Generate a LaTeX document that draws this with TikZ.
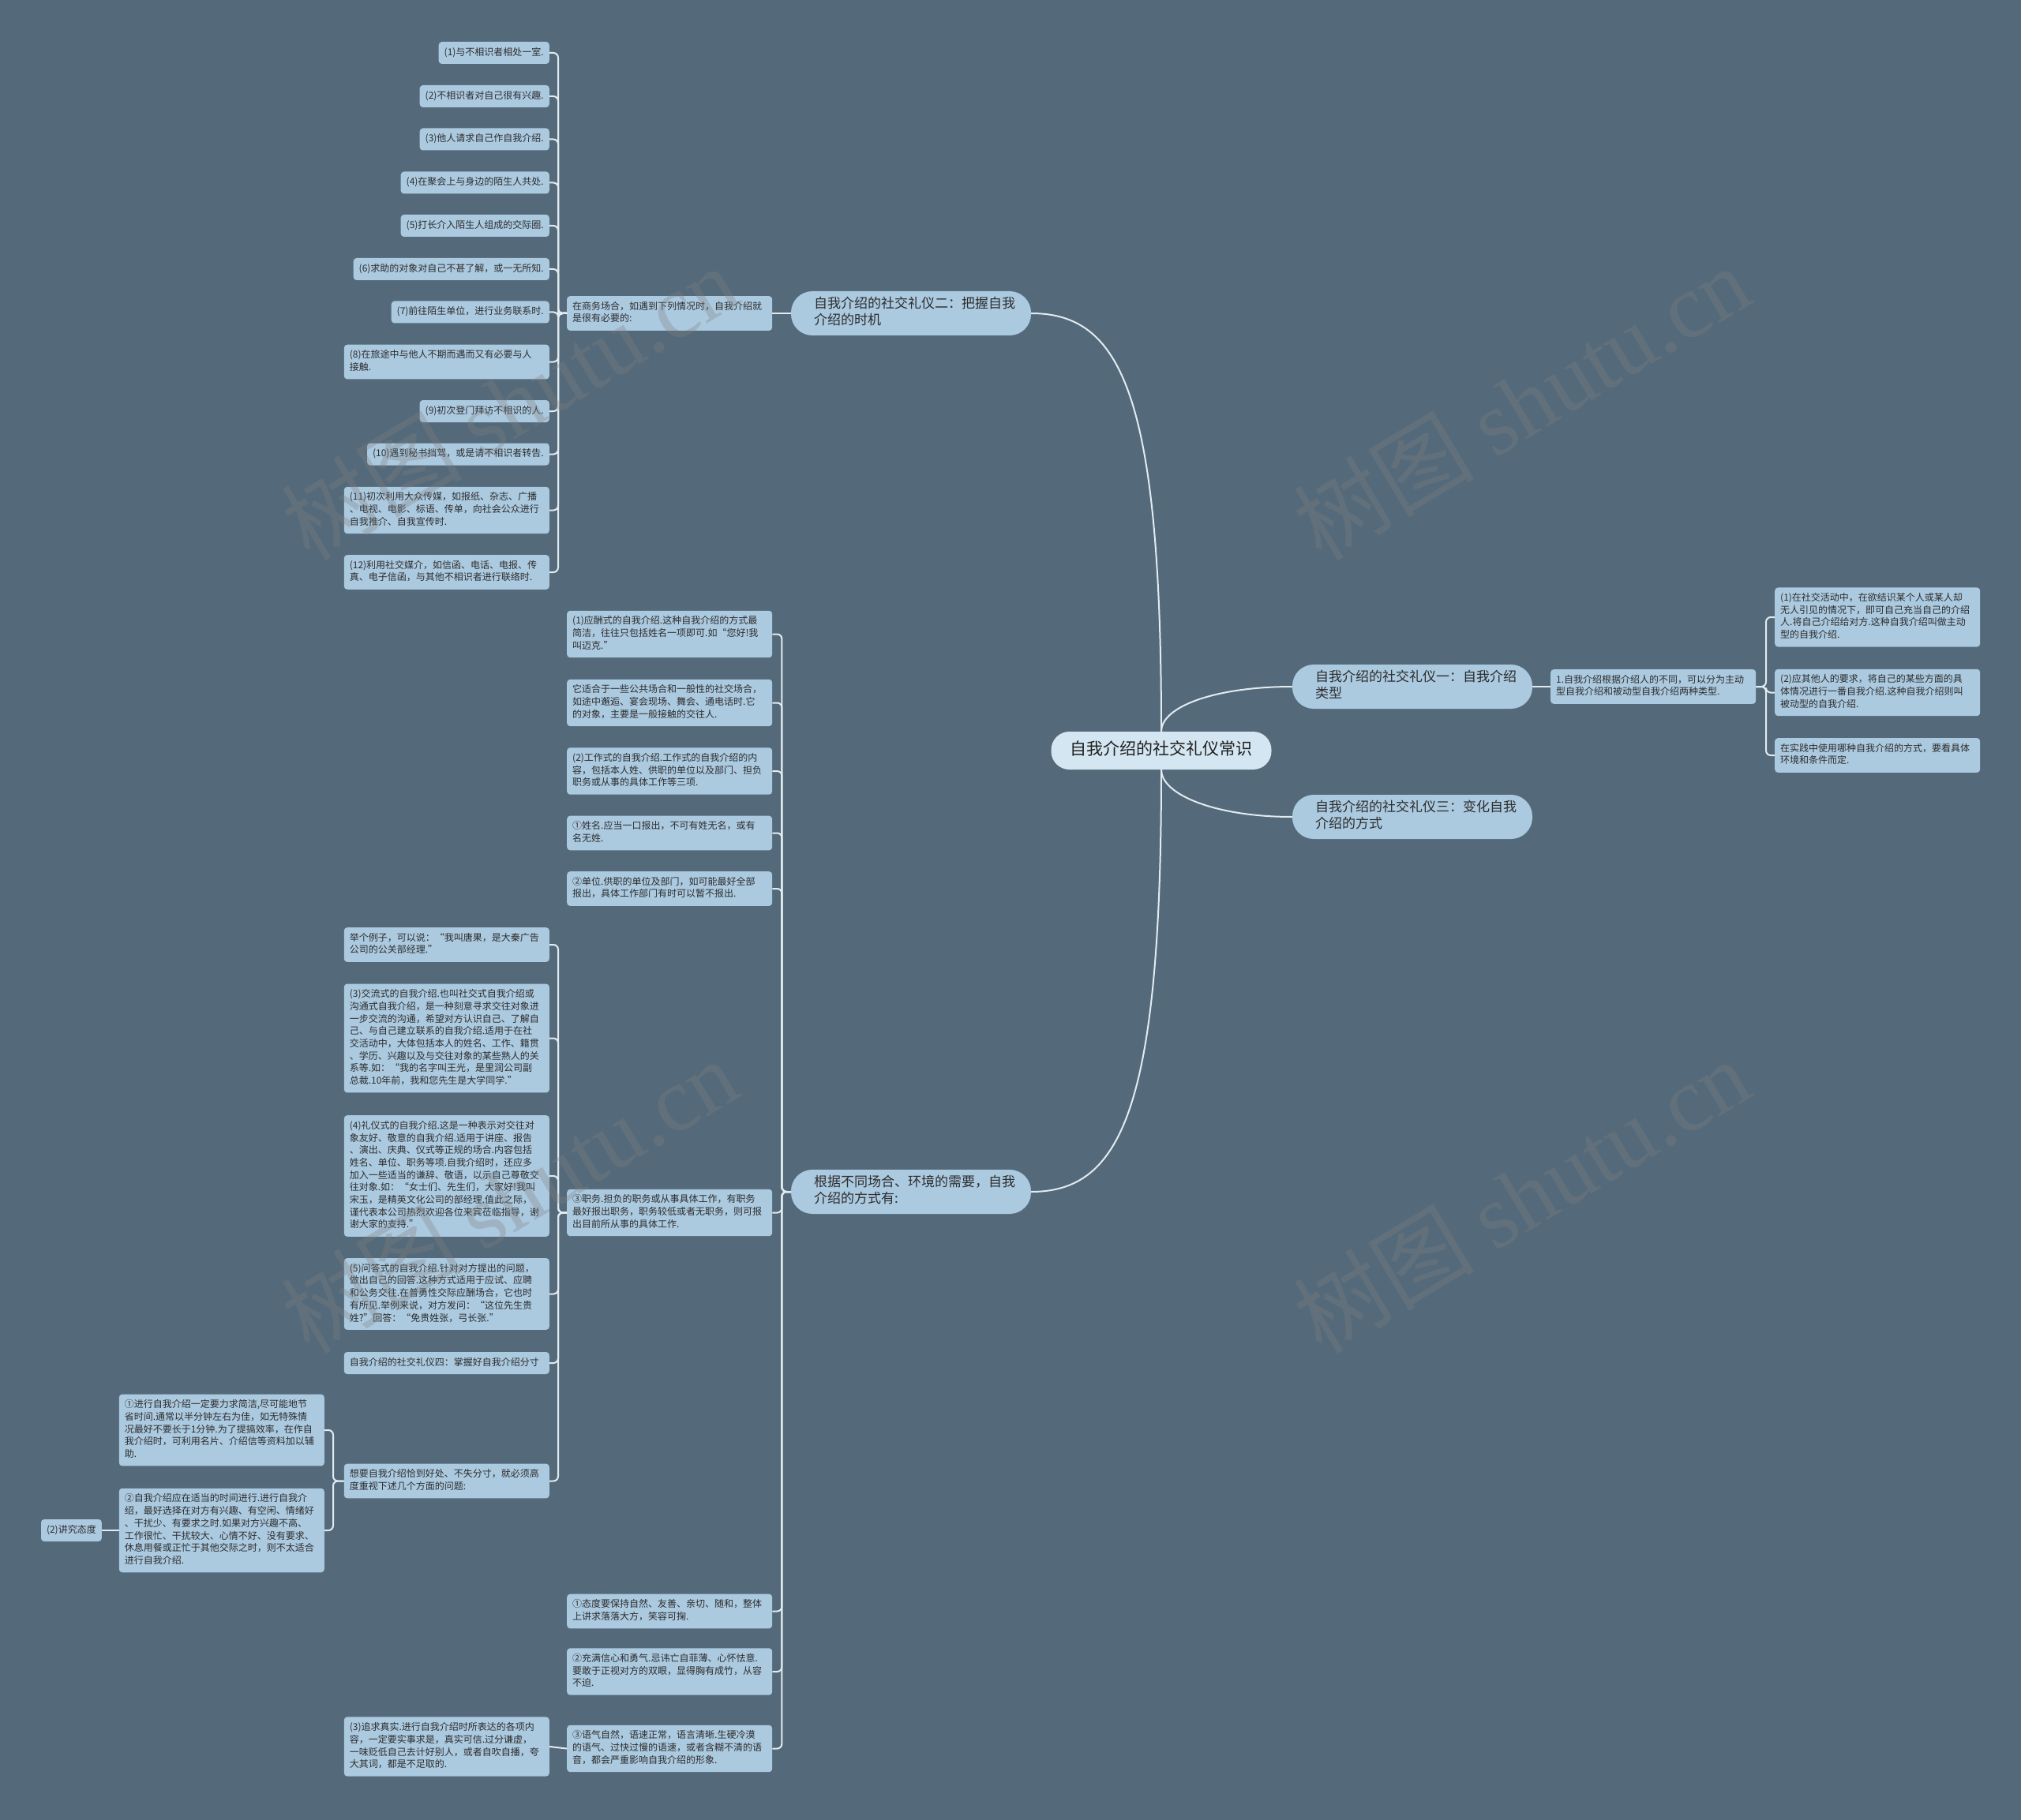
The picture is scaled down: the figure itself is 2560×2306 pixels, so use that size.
\documentclass[tikz,border=0pt]{standalone}
\usepackage{fontspec}
\newfontfamily\cjk{Noto Sans CJK SC}
\newfontfamily\wmlatin{Liberation Serif}
\definecolor{mapbg}{RGB}{84,106,122}
\definecolor{mapleaf}{RGB}{171,201,223}
\definecolor{maproot}{RGB}{212,230,241}
\definecolor{mapline}{RGB}{226,235,240}
\definecolor{maptext}{RGB}{45,45,45}
\tikzset{
  leaf/.style={fill=mapleaf, rounded corners=4pt, inner xsep=7pt, inner ysep=6.15pt,
    align=left, text=maptext, font=\cjk\fontsize{12}{15.7}\selectfont,
    execute at begin node=\strut, execute at end node=\strut},
  para/.style={leaf, text width=246pt},
  branch/.style={fill=mapleaf, rounded corners=27pt, inner xsep=29pt, inner ysep=7pt,
    text width=246pt, align=left, text=maptext, font=\cjk\fontsize{17}{21}\selectfont,
    execute at begin node=\strut, execute at end node=\strut},
  rootnode/.style={fill=maproot, rounded corners=23pt, inner xsep=24pt, inner ysep=11pt,
    text=black!88, font=\cjk\fontsize{21}{26}\selectfont,
    execute at begin node=\strut, execute at end node=\strut},
  conn/.style={draw=mapline, line width=2pt, rounded corners=6pt},
  wmark/.style={text=gray, opacity=0.3, rotate=31, font=\cjk\fontsize{115}{120}\selectfont}
}
\begin{document}
\begin{tikzpicture}[x=1pt, y=-1pt]
  \useasboundingbox (0,0) rectangle (2560,2306);
  \fill[mapbg] (0,0) rectangle (2560,2306);

  % centre and the four main branches
  \node[rootnode] (root) at (1471,951) {自我介绍的社交礼仪常识};
  \node[branch] (tips2) at (1154,397) {自我介绍的社交礼仪二：把握自我\\介绍的时机};
  \node[branch] (tips1) at (1789,870) {自我介绍的社交礼仪一：自我介绍\\类型};
  \node[branch] (tips3) at (1789,1035) {自我介绍的社交礼仪三：变化自我\\介绍的方式};
  \node[branch] (tips4) at (1154,1510) {根据不同场合、环境的需要，自我\\介绍的方式有:};
  \draw[conn] (root.north) .. controls (1471,500) and (1420,397) .. (tips2.east);
  \draw[conn] (root.south) .. controls (1471,1405) and (1420,1510) .. (tips4.east);
  \draw[conn] (root.north) .. controls (1471,895) and (1540,870) .. (tips1.west);
  \draw[conn] (root.south) .. controls (1471,1007) and (1540,1035) .. (tips3.west);

  % branch one: types
  \node[para, anchor=west] (type) at (1964,870) {1.自我介绍根据介绍人的不同，可以分为主动\\型自我介绍和被动型自我介绍两种类型.};
  \draw[conn] (tips1.east) -- (type.west);
  \foreach \y/\txt [count=\i] in {
    782/{(1)在社交活动中，在欲结识某个人或某人却\\无人引见的情况下，即可自己充当自己的介绍\\人.将自己介绍给对方.这种自我介绍叫做主动\\型的自我介绍.},
    877.5/{(2)应其他人的要求，将自己的某些方面的具\\体情况进行一番自我介绍.这种自我介绍则叫\\被动型的自我介绍.},
    957/{在实践中使用哪种自我介绍的方式，要看具体\\环境和条件而定.}}{
    \node[para, anchor=west] (kind\i) at (2248,\y) {\txt};
    \draw[conn] (kind\i.west) -- ++(-11,0) |- (type.east);
  }

  % branch two: occasions
  \node[para, anchor=west] (biz) at (718,397) {在商务场合，如遇到下列情况时，自我介绍就\\是很有必要的:};
  \draw[conn] (biz.east) -- (tips2.west);
  \foreach \y/\s/\txt [count=\i] in {
    67/leaf/{(1)与不相识者相处一室.},
    122/leaf/{(2)不相识者对自己很有兴趣.},
    176.5/leaf/{(3)他人请求自己作自我介绍.},
    231.5/leaf/{(4)在聚会上与身边的陌生人共处.},
    286/leaf/{(5)打长介入陌生人组成的交际圈.},
    341/leaf/{(6)求助的对象对自己不甚了解，或一无所知.},
    395.5/leaf/{(7)前往陌生单位，进行业务联系时.},
    458.5/para/{(8)在旅途中与他人不期而遇而又有必要与人\\接触.},
    521/leaf/{(9)初次登门拜访不相识的人.},
    575.5/leaf/{(10)遇到秘书挡驾，或是请不相识者转告.},
    646.5/para/{(11)初次利用大众传媒，如报纸、杂志、广播\\、电视、电影、标语、传单，向社会公众进行\\自我推介、自我宣传时.},
    725/para/{(12)利用社交媒介，如信函、电话、电报、传\\真、电子信函，与其他不相识者进行联络时.}}{
    \node[\s, anchor=east] (occ\i) at (696,\y) {\txt};
    \draw[conn] (occ\i.east) -- ++(11,0) |- (biz.west);
  }

  % branch four: ways of introducing
  \foreach \y/\txt [count=\i] in {
    803.5/{(1)应酬式的自我介绍.这种自我介绍的方式最\\简洁，往往只包括姓名一项即可.如“您好!我\\叫迈克.”},
    890.5/{它适合于一些公共场合和一般性的社交场合，\\如途中邂逅、宴会现场、舞会、通电话时.它\\的对象，主要是一般接触的交往人.},
    977/{(2)工作式的自我介绍.工作式的自我介绍的内\\容，包括本人姓、供职的单位以及部门、担负\\职务或从事的具体工作等三项.},
    1055.5/{①姓名.应当一口报出，不可有姓无名，或有\\名无姓.},
    1126/{②单位.供职的单位及部门，如可能最好全部\\报出，具体工作部门有时可以暂不报出.},
    1536.5/{③职务.担负的职务或从事具体工作，有职务\\最好报出职务，职务较低或者无职务，则可报\\出目前所从事的具体工作.},
    2041.5/{①态度要保持自然、友善、亲切、随和，整体\\上讲求落落大方，笑容可掬.},
    2118/{②充满信心和勇气.忌讳亡自菲薄、心怀怯意.\\要敢于正视对方的双眼，显得胸有成竹，从容\\不迫.},
    2215.5/{③语气自然，语速正常，语言清晰.生硬冷漠\\的语气、过快过慢的语速，或者含糊不清的语\\音，都会严重影响自我介绍的形象.}}{
    \node[para, anchor=west] (way\i) at (718,\y) {\txt};
    \draw[conn] (way\i.east) -- ++(12,0) |- (tips4.west);
  }

  % hung off the duty item
  \foreach \y/\txt [count=\i] in {
    1197/{举个例子，可以说：“我叫唐果，是大秦广告\\公司的公关部经理.”},
    1315.5/{(3)交流式的自我介绍.也叫社交式自我介绍或\\沟通式自我介绍，是一种刻意寻求交往对象进\\一步交流的沟通，希望对方认识自己、了解自\\己、与自己建立联系的自我介绍.适用于在社\\交活动中，大体包括本人的姓名、工作、籍贯\\、学历、兴趣以及与交往对象的某些熟人的关\\系等.如：“我的名字叫王光，是里润公司副\\总裁.10年前，我和您先生是大学同学.”},
    1490/{(4)礼仪式的自我介绍.这是一种表示对交往对\\象友好、敬意的自我介绍.适用于讲座、报告\\、演出、庆典、仪式等正规的场合.内容包括\\姓名、单位、职务等项.自我介绍时，还应多\\加入一些适当的谦辞、敬语，以示自己尊敬交\\往对象.如：“女士们、先生们，大家好!我叫\\宋玉，是精英文化公司的部经理.值此之际，\\谨代表本公司热烈欢迎各位来宾莅临指导，谢\\谢大家的支持.”},
    1639.5/{(5)问答式的自我介绍.针对对方提出的问题，\\做出自己的回答.这种方式适用于应试、应聘\\和公务交往.在普勇性交际应酬场合，它也时\\有所见.举例来说，对方发问：“这位先生贵\\姓?”回答：“免贵姓张，弓长张.”},
    1727/{自我介绍的社交礼仪四：掌握好自我介绍分寸},
    1876.5/{想要自我介绍恰到好处、不失分寸，就必须高\\度重视下述几个方面的问题:}}{
    \node[para, anchor=east] (ex\i) at (696,\y) {\txt};
    \draw[conn] (ex\i.east) -- ++(11,0) |- (way6.west);
  }

  % measure and timing
  \foreach \y/\txt [count=\i] in {
    1812/{①进行自我介绍一定要力求简洁,尽可能地节\\省时间.通常以半分钟左右为佳，如无特殊情\\况最好不要长于1分钟.为了提搞效率，在作自\\我介绍时，可利用名片、介绍信等资料加以辅\\助.},
    1939/{②自我介绍应在适当的时间进行.进行自我介\\绍，最好选择在对方有兴趣、有空闲、情绪好\\、干扰少、有要求之时.如果对方兴趣不高、\\工作很忙、干扰较大、心情不好、没有要求、\\休息用餐或正忙于其他交际之时，则不太适合\\进行自我介绍.}}{
    \node[para, anchor=east] (tip\i) at (411,\y) {\txt};
    \draw[conn] (tip\i.east) -- ++(11,0) |- (ex6.west);
  }
  \node[leaf, anchor=east] (attitude) at (129,1939) {(2)讲究态度};
  \draw[conn] (attitude.east) -- (tip2.west);
  \node[para, anchor=east] (truth) at (696,2213) {(3)追求真实.进行自我介绍时所表达的各项内\\容，一定要实事求是，真实可信.过分谦虚，\\一味贬低自己去计好别人，或者自吹自播，夸\\大其词，都是不足取的.};
  \draw[conn] (truth.east) -- (way9.west);

  % watermarks
  \foreach \x/\y [count=\i] in {645/510, 1927/510, 645/1515, 1927/1515}
    \node[wmark] (wm\i) at (\x,\y) {树图 {\wmlatin shutu.cn}};
\end{tikzpicture}
\end{document}
